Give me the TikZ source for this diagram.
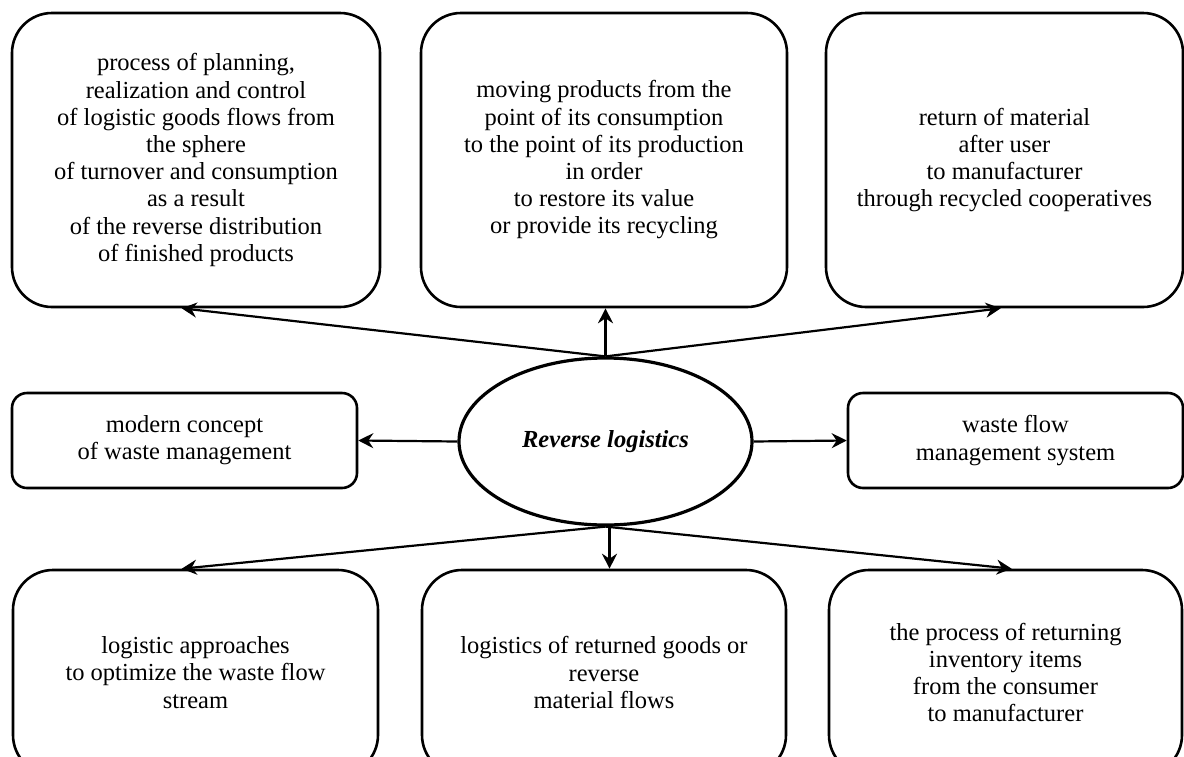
\documentclass[tikz,border=0pt]{standalone}
\usepackage{fontspec}
\setmainfont{Liberation Serif}
\usetikzlibrary{shapes.geometric,arrows.meta,calc}
\begin{document}
\begin{tikzpicture}[x=1pt,y=-1pt,
  txt/.style={font=\fontsize{24.5}{27.2}\selectfont, align=center, inner sep=0pt},
  bigbox/.style={txt, draw, line width=2.6pt, rounded corners=40pt, minimum height=294pt},
  lowbox/.style={txt, draw, line width=2.6pt, rounded corners=40pt, minimum height=205pt},
  midbox/.style={txt, draw, line width=2.6pt, rounded corners=15pt, minimum height=95pt},
  arr/.style={line width=2.2pt, -{Stealth[length=15pt,width=15pt,inset=5pt]}}]
\useasboundingbox (0,0) rectangle (1184,756);
\begin{scope}
\clip (0,0) rectangle (1184,756);
% top row
\node[bigbox, minimum width=368pt] (tl) at (196,160) {process of planning,\\realization and control\\of logistic goods flows from\\the sphere\\of turnover and consumption\\as a result\\of the reverse distribution\\of finished products};
\node[bigbox, minimum width=366pt] (tm) at (604,160) {moving products from the\\point of its consumption\\to the point of its production\\in order\\to restore its value\\or provide its recycling};
\node[bigbox, minimum width=357pt] (tr) at (1004.5,160) {return of material\\after user\\to manufacturer\\through recycled cooperatives};
% middle row
\node[midbox, minimum width=345pt] (ml) at (184.5,440.5) {modern concept\\of waste management};
\node[draw, ellipse, line width=3.2pt, minimum width=293pt, minimum height=167pt, inner sep=0pt,
  font=\fontsize{24.5}{27.2}\selectfont\bfseries\itshape] (e) at (605.5,441.5) {Reverse logistics};
\node[midbox, minimum width=335pt] (mr) at (1015.5,440.5) {waste flow\\management system};
% bottom row
\node[lowbox, minimum width=365pt] (bl) at (195.5,672.5) {logistic approaches\\to optimize the waste flow\\stream};
\node[lowbox, minimum width=364pt] (bm) at (604,672.5) {logistics of returned goods or\\reverse\\material flows};
\node[lowbox, minimum width=353pt] (br) at (1005.5,672.5) {the process of returning\\inventory items\\from the consumer\\to manufacturer};
% connectors
\coordinate (tlend) at ($(tl.south west)+(171,0)$);
\coordinate (trend) at ($(tr.south west)+(176,0)$);
\coordinate (blend) at ($(bl.north west)+(170,0)$);
\coordinate (brend) at ($(br.north west)+(184,0)$);
\draw[arr] (e.north) -- (tlend);
\draw[arr] (e.north) -- (trend);
\draw[arr] (e.north) -- (e.north |- tm.south);
\draw[arr] (e.west) -- (ml.east);
\draw[arr] (e.east) -- (mr.west);
\draw[arr] (e.south) -- (blend);
\draw[arr] (e.south) -- (brend);
\draw[arr] ($(e.south)+(4,0)$) -- ($(e.south |- bm.north)+(4,0)$);
\end{scope}
\end{tikzpicture}
\end{document}
